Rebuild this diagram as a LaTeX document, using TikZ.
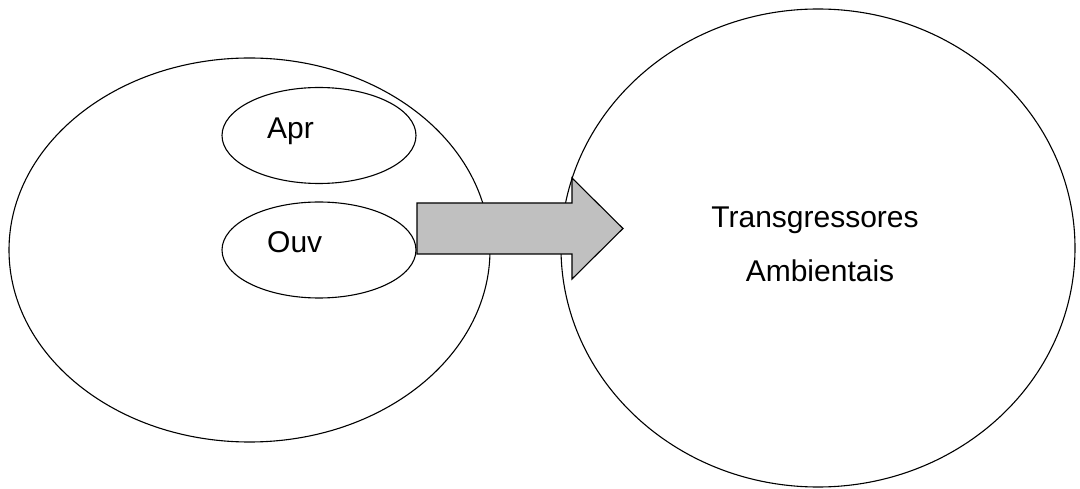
\documentclass[tikz,border=0pt]{standalone}
\usepackage{fontspec}
\setmainfont{Liberation Sans}
\usetikzlibrary{shapes.geometric}
\definecolor{arrowgray}{HTML}{C0C0C0}
\begin{document}
\begin{tikzpicture}[x=1pt,y=-1pt,
  outline/.style={draw=black,line width=1.1pt,ellipse,inner sep=0pt,fill=white},
  lbl/.style={font=\fontsize{30}{36}\selectfont,inner sep=0pt},
  bigarrow/.style={draw=black,line width=1.1pt,fill=arrowgray,line join=miter}]
\useasboundingbox (0,0) rectangle (1080,489);

% group on the left with its two members
\node[outline,minimum width=481pt,minimum height=384pt] (grupo) at (249.5,250) {};
\node[outline,minimum width=194pt,minimum height=96pt] (apr) at (319,135.5) {};
\node[outline,minimum width=194pt,minimum height=96pt] (ouv) at (319,250) {};
\node[lbl,anchor=base west] (aprtxt) at (267,139) {Apr};
\node[lbl,anchor=base west] (ouvtxt) at (267,253) {Ouv};

% target set on the right
\node[outline,minimum width=514pt,minimum height=478pt] (transg) at (818,248) {};
\node[lbl,anchor=base] (t1) at (815,228) {Transgressores};
\node[lbl,anchor=base] (t2) at (820,282) {Ambientais};

% block arrow from the group to the target set
\coordinate (a1) at (417,203);
\coordinate (a2) at (572,203);
\coordinate (a3) at (572,178);
\coordinate (tip) at (623,228.5);
\coordinate (a5) at (572,279);
\coordinate (a6) at (572,254);
\coordinate (a7) at (417,254);
\draw[bigarrow] (a1) -- (a2) -- (a3) -- (tip) -- (a5) -- (a6) -- (a7) -- cycle;
\end{tikzpicture}
\end{document}
